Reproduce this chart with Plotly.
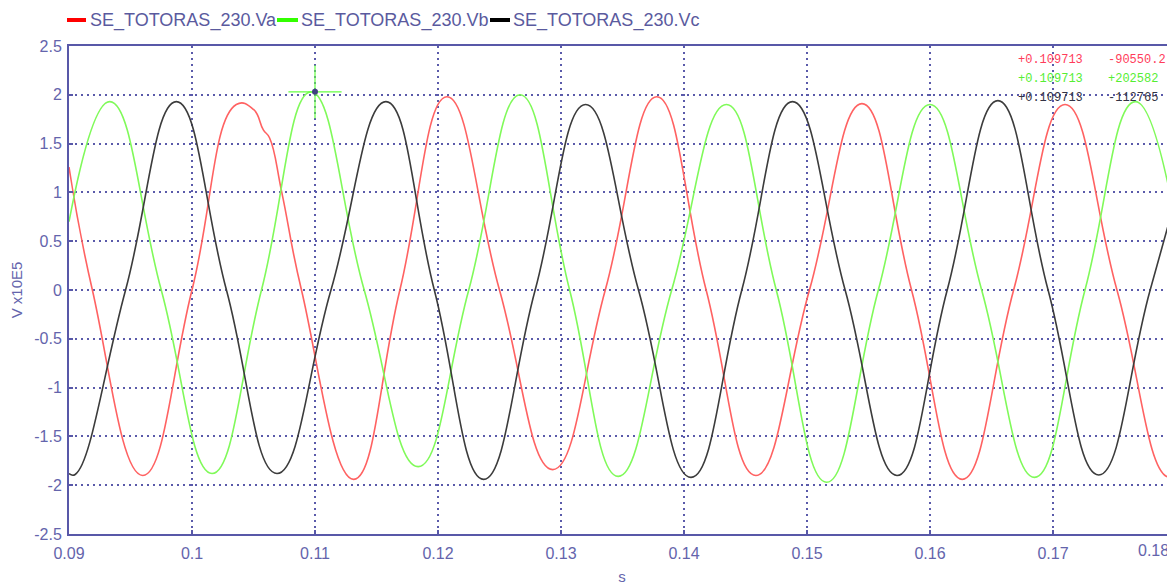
import plotly.graph_objects as go

# ---------------- data (V x1E5 vs s) ----------------
t_va = [0.0900, 0.0919, 0.0960, 0.1000, 0.1036, 0.1050, 0.1058, 0.1063, 0.1073, 0.1089,
        0.11315, 0.1169, 0.12073, 0.1250, 0.12933, 0.1336, 0.13779, 0.1418, 0.14584,
        0.1502, 0.15447, 0.1585, 0.16262, 0.1668, 0.17098, 0.1752, 0.17951, 0.1836]
va = [1.26, 0.0, -1.90, 0.0, 1.90, 1.85, 1.64, 1.56, 1.00, 0.0,
      -1.94, 0.0, 1.98, 0.0, -1.84, 0.0, 1.98, 0.0, -1.90,
      0.0, 1.91, 0.0, -1.94, 0.0, 1.90, 0.0, -1.92, 0.0]

t_vb = [0.0900, 0.09332, 0.0975, 0.10163, 0.10565, 0.10967, 0.1140, 0.11839, 0.1225,
        0.12667, 0.1307, 0.13465, 0.1390, 0.14345, 0.1475, 0.1516, 0.1558, 0.1600,
        0.1642, 0.1685, 0.1726, 0.1767, 0.1809]
vb = [0.70, 1.93, 0.0, -1.88, 0.0, 2.03, 0.0, -1.81, 0.0,
      2.00, 0.0, -1.91, 0.0, 1.90, 0.0, -1.97, 0.0, 1.90,
      0.0, -1.92, 0.0, 1.93, 0.0]

t_vc = [0.0900, 0.0905, 0.0946, 0.09873, 0.1028, 0.10691, 0.1113, 0.11577, 0.1197,
        0.12371, 0.1279, 0.1320, 0.1363, 0.14057, 0.1447, 0.14882, 0.1531, 0.15732,
        0.1614, 0.16552, 0.1696, 0.17372, 0.1779, 0.1821]
vc = [-1.88, -1.89, 0.0, 1.93, 0.0, -1.88, 0.0, 1.93, 0.0,
      -1.94, 0.0, 1.90, 0.0, -1.92, 0.0, 1.93, 0.0, -1.90,
      0.0, 1.94, 0.0, -1.895, 0.0, 1.90]

series_names = ["SE_TOTORAS_230.Va", "SE_TOTORAS_230.Vb", "SE_TOTORAS_230.Vc"]

cursor_t = [0.11]
cursor_v = [2.03]

readout_time = ["+0.109713", "+0.109713", "+0.109713"]
readout_vals = ["-90550.2", "+202582", "-112765"]

x_tickvals = [0.09, 0.10, 0.11, 0.12, 0.13, 0.14, 0.15, 0.16, 0.17]
x_ticktext = ["0.09", "0.1", "0.11", "0.12", "0.13", "0.14", "0.15", "0.16", "0.17"]
x_edge_label = "0.18"
y_tickvals = [2.5, 2, 1.5, 1, 0.5, 0, -0.5, -1, -1.5, -2, -2.5]
y_ticktext = ["2.5", "2", "1.5", "1", "0.5", "0", "-0.5", "-1", "-1.5", "-2", "-2.5"]

# ---------------- styles ----------------
line_cols = ["#ff6262", "#80fa5a", "#3c3c3c"]
legend_cols = ["#ff0000", "#33ff00", "#000000"]
readout_cols = ["#ff3c5a", "#55ee33", "#333344"]
axis_col = "#5858a8"
grid_col = "#5a5aaa"
text_col = "#6464ac"
FONT = "Liberation Sans, Arial, sans-serif"

# the page body has an 8px margin; the figure is sized so its right/bottom meet the window edges
BODY = 8
WIN_W, WIN_H = 1175, 585
W, H = WIN_W - BODY, WIN_H - BODY
# plot area in window pixels (from the reference)
PL, PR, PT, PB = 69, 1175, 46, 534
ML, MR, MT, MB = PL - BODY, WIN_W - PR, PT - BODY, WIN_H - PB
px_per_unit = 12300.0  # pixels per second on x
x_end = 0.09 + (PR - PL) / px_per_unit

fig = go.Figure()
for tt, vv, col in zip([t_va, t_vb, t_vc], [va, vb, vc], line_cols):
    fig.add_trace(go.Scatter(x=tt, y=vv, mode="lines", showlegend=False,
                             line=dict(color=col, width=1.6, shape="spline", smoothing=1.3),
                             hoverinfo="x+y"))

# cursor marker
fig.add_trace(go.Scatter(x=cursor_t, y=cursor_v, mode="markers", showlegend=False,
                         marker=dict(symbol="cross-thin", size=38,
                                     line=dict(color="#66ff44", width=1.2))))
fig.add_trace(go.Scatter(x=cursor_t, y=cursor_v, mode="markers", showlegend=False,
                         marker=dict(symbol="circle", size=6, color="#404080")))

pw = PR - PL
ph = PB - PT

def xp(px):
    return (px - PL) / pw

def yp(py):
    return (PB - py) / ph

shapes = []
annotations = []

# manual legend (window pixel positions from the reference)
leg_line_x = [(67, 86), (277, 298), (490, 510)]
leg_text_x = [88, 299, 511]
leg_y = 20
for (x0, x1), tx, col, name in zip(leg_line_x, leg_text_x, legend_cols, series_names):
    shapes.append(dict(type="line", xref="paper", yref="paper",
                       x0=xp(x0), x1=xp(x1), y0=yp(leg_y), y1=yp(leg_y),
                       line=dict(color=col, width=4)))
    annotations.append(dict(xref="paper", yref="paper", x=xp(tx), y=yp(leg_y),
                            xanchor="left", yanchor="middle", showarrow=False,
                            text=name, font=dict(family=FONT, size=18, color="#5a5a9e")))

# readouts (top right)
ro_y = [60, 79, 98]
for yy, tval, vval, col in zip(ro_y, readout_time, readout_vals, readout_cols):
    annotations.append(dict(xref="paper", yref="paper", x=xp(1016), y=yp(yy),
                            xanchor="left", yanchor="middle", showarrow=False,
                            text=tval, font=dict(family="Liberation Mono, monospace", size=12, color=col)))
    annotations.append(dict(xref="paper", yref="paper", x=xp(1106), y=yp(yy),
                            xanchor="left", yanchor="middle", showarrow=False,
                            text=vval, font=dict(family="Liberation Mono, monospace", size=12, color=col)))

# last tick label at the right edge
annotations.append(dict(xref="paper", yref="paper", x=1.0, y=yp(550),
                        xanchor="right", yanchor="middle", showarrow=False, xshift=-4,
                        text=x_edge_label, font=dict(family=FONT, size=16, color=text_col)))

fig.update_layout(
    width=W, height=H,
    margin=dict(l=ML, r=MR, t=MT, b=MB, pad=0),
    paper_bgcolor="white", plot_bgcolor="white",
    font=dict(family=FONT, size=16, color=text_col),
    showlegend=False,
    shapes=shapes, annotations=annotations,
    xaxis=dict(range=[0.09, x_end], tickvals=x_tickvals, ticktext=x_ticktext,
               showline=True, linecolor=axis_col, linewidth=2, mirror=True,
               ticks="inside", ticklen=4, tickwidth=2, tickcolor=axis_col,
               ticklabelstandoff=4,
               showgrid=True, gridcolor=grid_col, gridwidth=1.5, griddash="2px,4px",
               zeroline=False,
               tickfont=dict(family=FONT, size=16, color=text_col),
               title=dict(text="s", font=dict(family=FONT, size=15, color=text_col), standoff=10)),
    yaxis=dict(range=[-2.5, 2.5], tickvals=y_tickvals, ticktext=y_ticktext,
               showline=True, linecolor=axis_col, linewidth=2,
               ticks="inside", ticklen=4, tickwidth=2, tickcolor=axis_col,
               ticklabelstandoff=2,
               showgrid=True, gridcolor=grid_col, gridwidth=1.5, griddash="2px,4px",
               zeroline=False,
               tickfont=dict(family=FONT, size=16, color=text_col),
               title=dict(text="V x10E5", font=dict(family=FONT, size=15, color=text_col), standoff=16)),
)

fig.write_html("out.html")
